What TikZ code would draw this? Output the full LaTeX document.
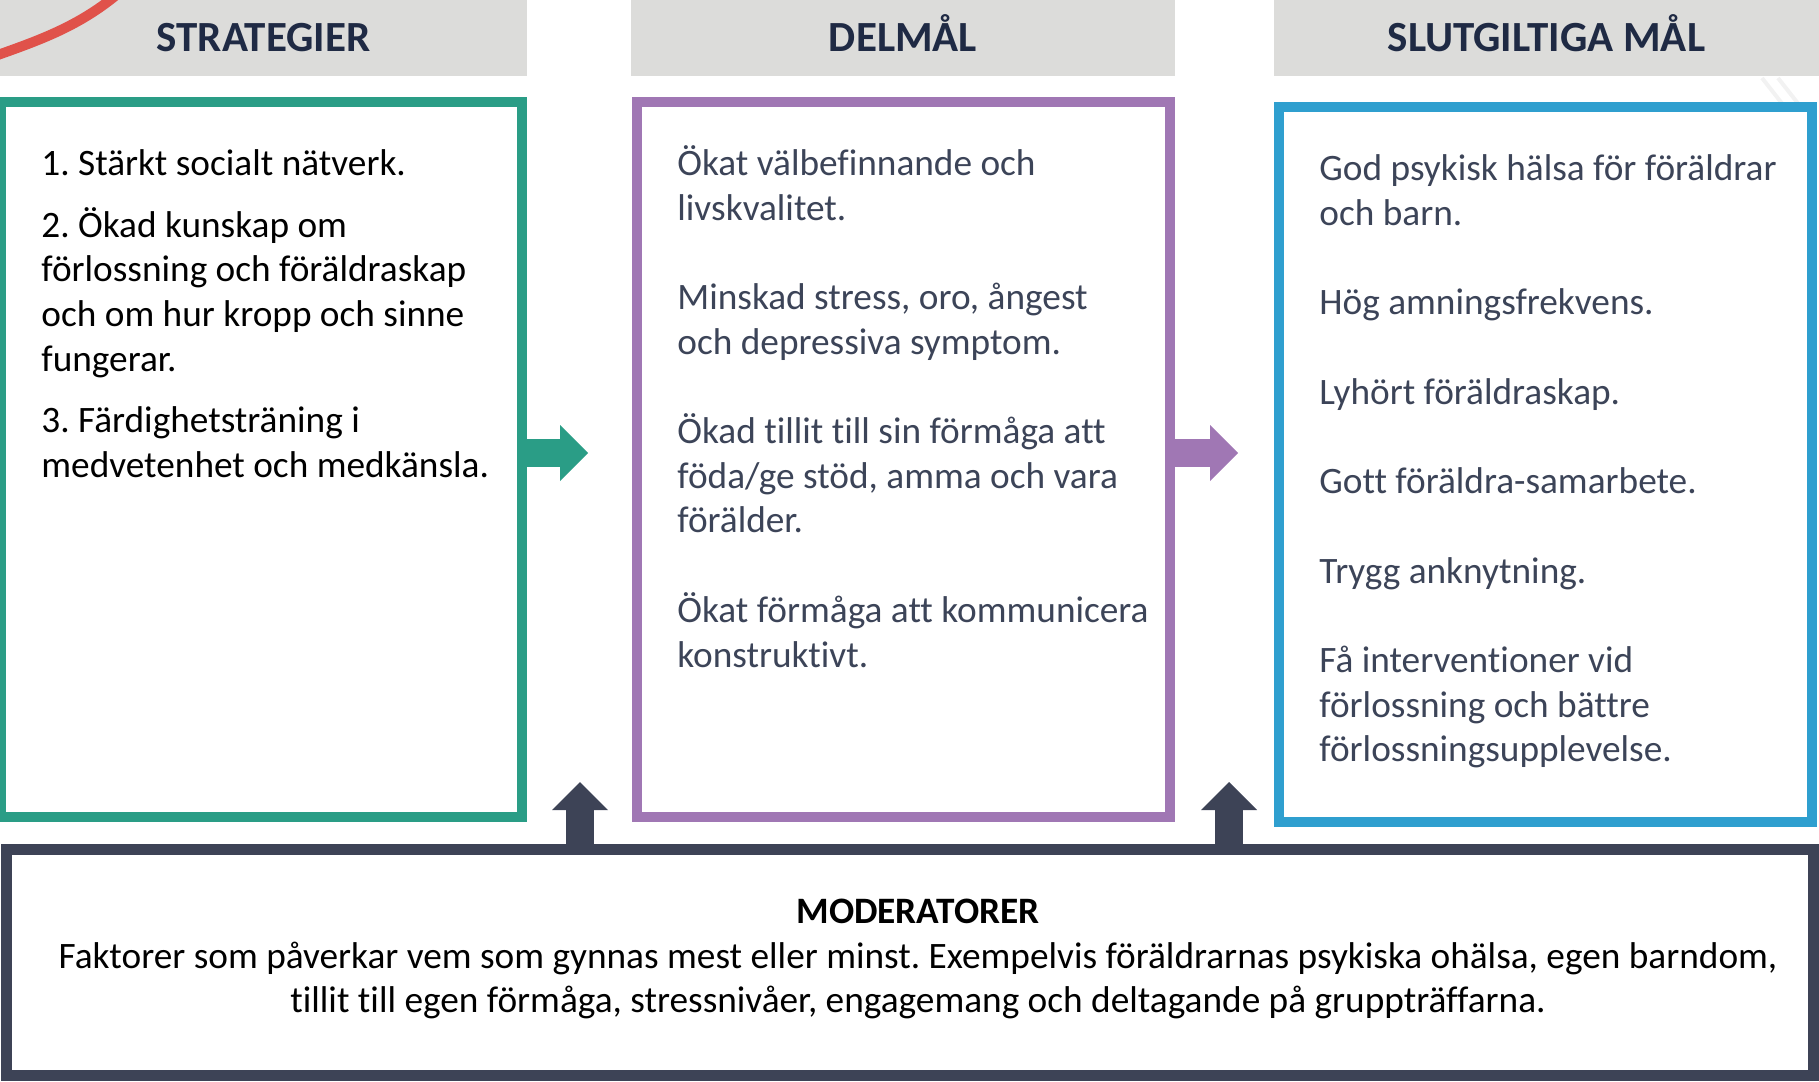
\documentclass[tikz,border=0pt]{standalone}
\usepackage{fontspec}
\setmainfont{Carlito}[Ligatures={NoCommon}]
\frenchspacing
\usetikzlibrary{arrows.meta}
\definecolor{hdrgray}{RGB}{220,220,218}
\definecolor{hdrtext}{RGB}{31,42,68}
\definecolor{tealc}{RGB}{42,157,134}
\definecolor{lilac}{RGB}{160,119,180}
\definecolor{skyc}{RGB}{47,159,207}
\definecolor{slate}{RGB}{61,67,86}
\definecolor{bodytxt}{RGB}{60,68,88}
\definecolor{swoosh}{RGB}{224,82,74}
\begin{document}
\begin{tikzpicture}[x=0.5pt,y=-0.5pt,
  head/.style={fill=hdrgray,text=hdrtext,font=\fontsize{21.5}{25}\selectfont\bfseries,minimum height=38pt,inner sep=0pt,text height=13.85pt,text depth=0pt},
  frame/.style={draw=#1,line width=5pt,fill=white,inner sep=0pt,minimum height=357.5pt},
  body/.style={anchor=north west,inner sep=0pt,align=left,font=\fontsize{18.65}{22.35}\selectfont},
  blockarrow/.style={draw=#1,line width=14pt,-{Triangle[width=28pt,length=14pt,line width=0pt]}}]
\useasboundingbox (0,0) rectangle (1819,1081);
\node[head,minimum width=263.5pt] (hstrat) at (263.5,38) {STRATEGIER};
\node[head,minimum width=272pt] (hdel) at (903,38) {DELMÅL};
\node[head,minimum width=272.5pt] (hslut) at (1546.5,38) {SLUTGILTIGA MÅL};
\draw[swoosh,line width=5pt] (-5,56) .. controls (40,40) and (80,26) .. (120,-8);
\draw[gray!10,line width=2pt] (1762,78) -- (1784,106);
\draw[gray!10,line width=2pt] (1778,78) -- (1800,106);
\node[frame=tealc,minimum width=260.5pt] (strat) at (261.5,459.5) {};
\node[frame=lilac,minimum width=266.5pt] (delmal) at (903.5,459.5) {};
\node[frame=skyc,minimum width=266.5pt] (slut) at (1545.5,464.5) {};
\coordinate (tipa) at (588,453);
\coordinate (tipb) at (1238,453);
\draw[blockarrow=tealc] (strat.east |- tipa) -- (tipa);
\draw[blockarrow=lilac] (delmal.east |- tipb) -- (tipb);
\node[body,text=black] (strattext) at (41,143.7) {\strut 1. Stärkt socialt nätverk.\\[8.5pt]
2. Ökad kunskap om\\
förlossning och föräldraskap\\
och om hur kropp och sinne\\
fungerar.\\[8.5pt]
3. Färdighetsträning i\\
medvetenhet och medkänsla.};
\node[body,text=bodytxt] (deltext) at (677,143.7) {\strut Ökat välbefinnande och\\
livskvalitet.\\[22.35pt]
Minskad stress, oro, ångest\\
och depressiva symptom.\\[22.35pt]
Ökad tillit till sin förmåga att\\
föda/ge stöd, amma och vara\\
förälder.\\[22.35pt]
Ökat förmåga att kommunicera\\
konstruktivt.};
\node[body,text=bodytxt] (sluttext) at (1319,149.2) {\strut God psykisk hälsa för föräldrar\\
och barn.\\[22.35pt]
Hög amningsfrekvens.\\[22.35pt]
Lyhört föräldraskap.\\[22.35pt]
Gott föräldra-samarbete.\\[22.35pt]
Trygg anknytning.\\[22.35pt]
Få interventioner vid\\
förlossning och bättre\\
förlossningsupplevelse.};
\node[frame=slate,line width=5.5pt,minimum width=903.5pt,minimum height=113pt] (moder) at (909.5,962.5) {};
\coordinate (upa) at (580,782);
\coordinate (upb) at (1229,782);
\draw[blockarrow=slate] (upa |- moder.north) -- (upa);
\draw[blockarrow=slate] (upb |- moder.north) -- (upb);
\node[anchor=north,inner sep=0pt,align=center,font=\fontsize{18.65}{22.35}\selectfont] (modtext) at (918,891.7) {\strut\textbf{MODERATORER}\\
Faktorer som påverkar vem som gynnas mest eller minst. Exempelvis föräldrarnas psykiska ohälsa, egen barndom,\\
tillit till egen förmåga, stressnivåer, engagemang och deltagande på gruppträffarna.};
\end{tikzpicture}
\end{document}
